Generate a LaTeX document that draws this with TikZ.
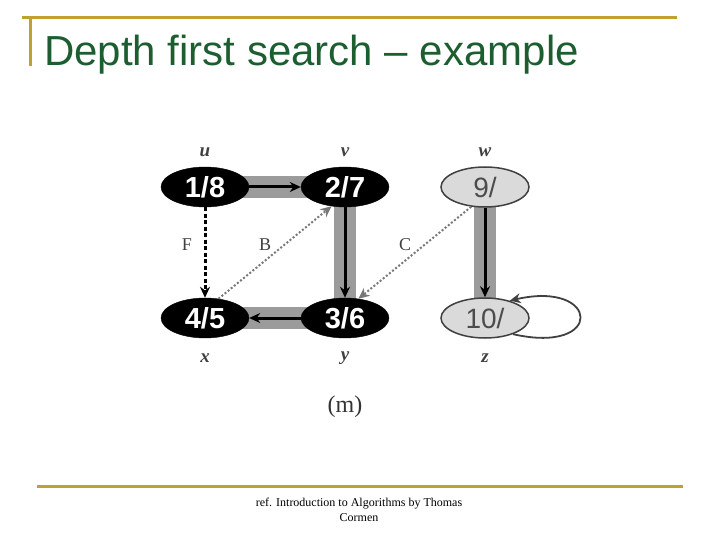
\documentclass[tikz,border=0pt]{standalone}
\usepackage{fontspec}
\setmainfont{Liberation Serif}
\newfontfamily\arialf{Liberation Sans}
\usetikzlibrary{shapes.geometric,arrows.meta,backgrounds}
\definecolor{gold}{RGB}{192,160,48}
\definecolor{titlegreen}{RGB}{28,94,48}
\definecolor{band}{RGB}{155,155,155}
\definecolor{lightnode}{RGB}{218,218,218}
\definecolor{dotgray}{RGB}{120,120,120}
\tikzset{
  blacknode/.style={ellipse, fill=black, draw=black, minimum width=88pt, minimum height=40pt, inner sep=0pt,
    text=white, font=\arialf\bfseries\fontsize{29}{29}\selectfont},
  graynode/.style={ellipse, fill=lightnode, draw=black!75, line width=1.5pt, minimum width=88pt, minimum height=40pt, inner sep=0pt,
    text=black!70, font=\arialf\fontsize{28}{28}\selectfont},
  vlabel/.style={font=\itshape\bfseries\fontsize{19}{19}\selectfont, text=black!75},
  elabel/.style={font=\fontsize{18}{18}\selectfont, text=black!75},
  bandline/.style={line width=22pt, draw=band},
  treearrow/.style={line width=3pt, -{Stealth[length=11pt,width=10pt]}},
  fwdarrow/.style={line width=3pt, dash pattern=on 4pt off 2.5pt, -{Stealth[length=11pt,width=10pt]}},
  dotarrow/.style={line width=2pt, draw=dotgray, dash pattern=on 2pt off 2pt, -{Stealth[length=11pt,width=10pt]}},
  rule/.style={draw=gold, line width=3pt}
}
\begin{document}
\begin{tikzpicture}[x=1pt,y=-1pt]
\useasboundingbox (0,0) rectangle (720,540);
% slide frame
\coordinate (tl) at (22,18);
\coordinate (tr) at (677,18);
\coordinate (vl1) at (30,18);
\coordinate (vl2) at (30,66);
\coordinate (bl) at (37,486);
\coordinate (br) at (683,486);
\draw[rule] (tl) -- (tr);
\draw[rule] (vl1) -- (vl2);
\draw[rule] (bl) -- (br);
\node[anchor=base west, inner sep=0pt, text=titlegreen, font=\arialf\fontsize{42}{42}\selectfont] (title) at (44,66) {Depth first search – example};
\node[align=center, inner sep=0pt, font=\fontsize{12}{15}\selectfont] (ref) at (359,510) {ref. Introduction to Algorithms by Thomas\\Cormen};
% nodes
\node[blacknode] (u) at (205,187) {1/8};
\node[blacknode] (v) at (345,187) {2/7};
\node[graynode] (w) at (485,187) {9/};
\node[blacknode] (x) at (205,318) {4/5};
\node[blacknode] (y) at (345,318) {3/6};
\node[graynode] (z) at (485,318) {10/};
\node[vlabel] (lu) at (205,152) {u};
\node[vlabel] (lv) at (345,152) {v};
\node[vlabel] (lw) at (485,152) {w};
\node[vlabel] (lx) at (205,358) {x};
\node[vlabel] (ly) at (345,358) {y};
\node[vlabel] (lz) at (485,358) {z};
\node[font=\fontsize{24}{24}\selectfont, text=black!80] (m) at (345,407) {(m)};
% tree-edge bands
\begin{scope}[on background layer]
\draw[bandline] (u.center) -- (v.center);
\draw[bandline] (v.center) -- (y.center);
\draw[bandline] (y.center) -- (x.center);
\draw[bandline] (w.center) -- (z.center);
\end{scope}
% tree edges
\draw[treearrow] (u) -- (v);
\draw[treearrow] (v) -- (y);
\draw[treearrow] (y) -- (x);
\draw[treearrow] (w) -- (z);
% forward, back, cross edges
\draw[fwdarrow] (u) -- (x);
\draw[dotarrow] (x.55) -- (v.235);
\draw[dotarrow] (w.235) -- (y.55);
\node[elabel] (lf) at (187,245) {F};
\node[elabel] (lb) at (265,245) {B};
\node[elabel] (lc) at (405,245) {C};
% self loop on z
\draw[line width=1.8pt, draw=black!75, -{Stealth[length=11pt,width=10pt]}] (z.330) .. controls (605,355) and (600,280) .. (z.35);
\end{tikzpicture}
\end{document}
